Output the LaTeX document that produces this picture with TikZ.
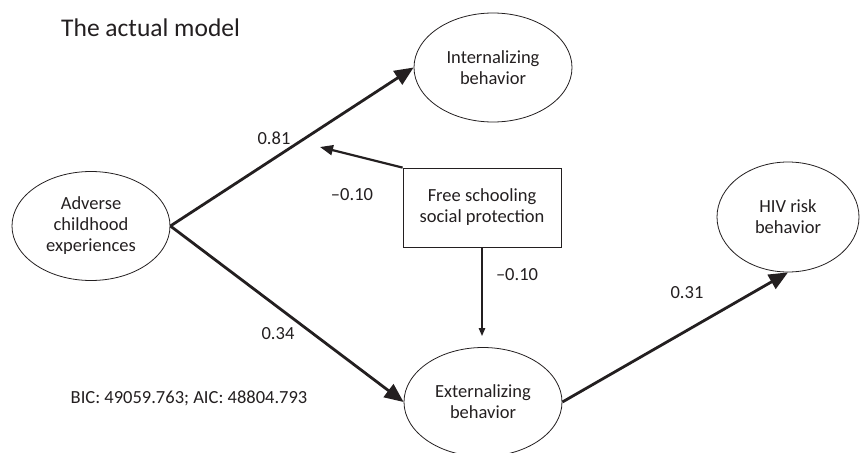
\documentclass[tikz,border=0pt]{standalone}
\usepackage{fontspec}
\setmainfont{Carlito}
\usetikzlibrary{arrows.meta,shapes.geometric,calc}
\definecolor{ink}{HTML}{231F20}
\begin{document}
\begin{tikzpicture}[x=1pt,y=-1pt,
  lbl/.style={font=\fontsize{18.5}{21}\selectfont, text=ink, inner sep=0pt},
  var/.style={ellipse, draw=ink, line width=0.8pt, minimum width=158pt, minimum height=109pt, inner sep=0pt, align=center, font=\fontsize{18.5}{21}\selectfont, text=ink},
  boxnode/.style={rectangle, draw=ink, line width=0.8pt, minimum width=158pt, minimum height=79pt, inner sep=0pt, align=center, font=\fontsize{18.5}{21}\selectfont, text=ink},
  bigarrow/.style={draw=ink, line width=2.8pt, -{Triangle[length=19pt,width=16pt]}},
  midarrow/.style={draw=ink, line width=2.2pt, -{Triangle[length=13pt,width=10pt]}},
  smallarrow/.style={draw=ink, line width=1.4pt, -{Triangle[length=8pt,width=6.5pt]}}
]
\useasboundingbox (0,0) rectangle (861,452);
\node[lbl, font=\fontsize{25.5}{30}\selectfont, anchor=west] (title) at (61,28) {The actual model};
\node[var] (adv) at (91,226) {Adverse\\childhood\\experiences};
\node[var] (int) at (493,67.5) {Internalizing\\behavior};
\node[var] (ext) at (483,402) {Externalizing\\behavior};
\node[var, minimum width=142pt, minimum height=110pt] (hiv) at (788,217) {HIV risk\\behavior};
\node[boxnode] (box) at (482,207.5) {Free schooling\\social protection};
\coordinate (mod) at (320,147);
\coordinate (boxend) at (482,336);
\draw[bigarrow] (adv.east) -- (int.west);
\draw[bigarrow] (adv.east) -- (ext.west);
\draw[bigarrow] (ext.east) -- (hiv.south);
\draw[midarrow] (box.north west) -- (mod);
\draw[smallarrow] (box.south) -- (boxend);
\node[lbl] (l1) at (274,138) {0.81};
\node[lbl] (l2) at (352,195) {–0.10};
\node[lbl] (l3) at (517,275) {–0.10};
\node[lbl] (l4) at (278,334) {0.34};
\node[lbl] (l5) at (687,293) {0.31};
\node[lbl] (fit) at (189,398) {BIC: 49059.763; AIC: 48804.793};
\end{tikzpicture}
\end{document}
